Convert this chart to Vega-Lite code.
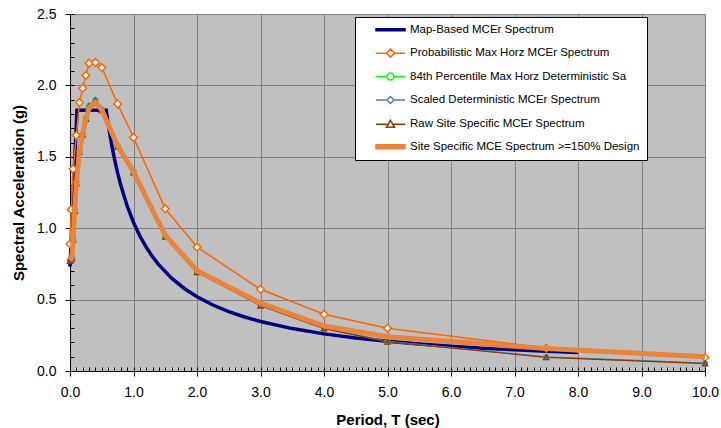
{
  "$schema": "https://vega.github.io/schema/vega-lite/v6.json",
  "width": 635,
  "height": 357,
  "autosize": {"type": "none"},
  "padding": {"left": 70, "top": 14, "right": 16, "bottom": 57},
  "background": "white",
  "config": {"view": {"fill": "#C0C0C0", "stroke": null}, "font": "Liberation Sans"},
  "data": {"values": [
    {"s":"map","T":0,"Sa":0.73},{"s":"map","T":0.11,"Sa":1.826},{"s":"map","T":0.57,"Sa":1.826},{"s":"map","T":0.6,"Sa":1.733},{"s":"map","T":0.65,"Sa":1.6},{"s":"map","T":0.7,"Sa":1.486},{"s":"map","T":0.75,"Sa":1.387},{"s":"map","T":0.8,"Sa":1.3},{"s":"map","T":0.9,"Sa":1.156},{"s":"map","T":1,"Sa":1.04},{"s":"map","T":1.1,"Sa":0.945},{"s":"map","T":1.2,"Sa":0.867},{"s":"map","T":1.3,"Sa":0.8},{"s":"map","T":1.4,"Sa":0.743},{"s":"map","T":1.6,"Sa":0.65},{"s":"map","T":1.8,"Sa":0.578},{"s":"map","T":2,"Sa":0.52},{"s":"map","T":2.25,"Sa":0.462},{"s":"map","T":2.5,"Sa":0.416},{"s":"map","T":2.75,"Sa":0.378},{"s":"map","T":3,"Sa":0.347},{"s":"map","T":3.5,"Sa":0.297},{"s":"map","T":4,"Sa":0.26},{"s":"map","T":4.5,"Sa":0.231},{"s":"map","T":5,"Sa":0.208},{"s":"map","T":5.5,"Sa":0.189},{"s":"map","T":6,"Sa":0.173},{"s":"map","T":6.5,"Sa":0.16},{"s":"map","T":7,"Sa":0.149},{"s":"map","T":7.5,"Sa":0.139},{"s":"map","T":8,"Sa":0.13},
    {"s":"prob","T":0,"Sa":0.89},{"s":"prob","T":0.02,"Sa":1.13},{"s":"prob","T":0.05,"Sa":1.415},{"s":"prob","T":0.1,"Sa":1.65},{"s":"prob","T":0.15,"Sa":1.88},{"s":"prob","T":0.2,"Sa":1.98},{"s":"prob","T":0.25,"Sa":2.07},{"s":"prob","T":0.3,"Sa":2.155},{"s":"prob","T":0.4,"Sa":2.16},{"s":"prob","T":0.5,"Sa":2.125},{"s":"prob","T":0.75,"Sa":1.87},{"s":"prob","T":1,"Sa":1.635},{"s":"prob","T":1.5,"Sa":1.136},{"s":"prob","T":2,"Sa":0.868},{"s":"prob","T":3,"Sa":0.572},{"s":"prob","T":4,"Sa":0.397},{"s":"prob","T":5,"Sa":0.3},{"s":"prob","T":7.5,"Sa":0.16},{"s":"prob","T":10,"Sa":0.095},
    {"s":"p84","T":0,"Sa":0.775},{"s":"p84","T":0.02,"Sa":0.785},{"s":"p84","T":0.03,"Sa":0.8},{"s":"p84","T":0.05,"Sa":0.924},{"s":"p84","T":0.075,"Sa":1.127},{"s":"p84","T":0.1,"Sa":1.32},{"s":"p84","T":0.15,"Sa":1.54},{"s":"p84","T":0.2,"Sa":1.66},{"s":"p84","T":0.25,"Sa":1.77},{"s":"p84","T":0.3,"Sa":1.855},{"s":"p84","T":0.4,"Sa":1.896},{"s":"p84","T":0.5,"Sa":1.83},{"s":"p84","T":0.75,"Sa":1.577},{"s":"p84","T":1,"Sa":1.395},{"s":"p84","T":1.5,"Sa":0.945},{"s":"p84","T":2,"Sa":0.697},{"s":"p84","T":3,"Sa":0.46},{"s":"p84","T":4,"Sa":0.3},{"s":"p84","T":5,"Sa":0.206},{"s":"p84","T":7.5,"Sa":0.098},{"s":"p84","T":10,"Sa":0.055},
    {"s":"scaled","T":0,"Sa":0.78},{"s":"scaled","T":0.02,"Sa":0.79},{"s":"scaled","T":0.03,"Sa":0.805},{"s":"scaled","T":0.05,"Sa":0.93},{"s":"scaled","T":0.075,"Sa":1.13},{"s":"scaled","T":0.1,"Sa":1.325},{"s":"scaled","T":0.15,"Sa":1.545},{"s":"scaled","T":0.2,"Sa":1.665},{"s":"scaled","T":0.25,"Sa":1.775},{"s":"scaled","T":0.3,"Sa":1.86},{"s":"scaled","T":0.4,"Sa":1.9},{"s":"scaled","T":0.5,"Sa":1.835},{"s":"scaled","T":0.75,"Sa":1.58},{"s":"scaled","T":1,"Sa":1.4},{"s":"scaled","T":1.5,"Sa":0.95},{"s":"scaled","T":2,"Sa":0.7},{"s":"scaled","T":3,"Sa":0.462},{"s":"scaled","T":4,"Sa":0.302},{"s":"scaled","T":5,"Sa":0.207},{"s":"scaled","T":7.5,"Sa":0.099},{"s":"scaled","T":10,"Sa":0.056},
    {"s":"raw","T":0,"Sa":0.77},{"s":"raw","T":0.02,"Sa":0.78},{"s":"raw","T":0.03,"Sa":0.795},{"s":"raw","T":0.05,"Sa":0.92},{"s":"raw","T":0.075,"Sa":1.12},{"s":"raw","T":0.1,"Sa":1.315},{"s":"raw","T":0.15,"Sa":1.535},{"s":"raw","T":0.2,"Sa":1.655},{"s":"raw","T":0.25,"Sa":1.765},{"s":"raw","T":0.3,"Sa":1.85},{"s":"raw","T":0.4,"Sa":1.89},{"s":"raw","T":0.5,"Sa":1.825},{"s":"raw","T":0.75,"Sa":1.572},{"s":"raw","T":1,"Sa":1.39},{"s":"raw","T":1.5,"Sa":0.94},{"s":"raw","T":2,"Sa":0.692},{"s":"raw","T":3,"Sa":0.457},{"s":"raw","T":4,"Sa":0.297},{"s":"raw","T":5,"Sa":0.204},{"s":"raw","T":7.5,"Sa":0.096},{"s":"raw","T":10,"Sa":0.052},
    {"s":"site","T":0,"Sa":0.775},{"s":"site","T":0.02,"Sa":0.785},{"s":"site","T":0.03,"Sa":0.8},{"s":"site","T":0.05,"Sa":0.924},{"s":"site","T":0.075,"Sa":1.127},{"s":"site","T":0.1,"Sa":1.32},{"s":"site","T":0.15,"Sa":1.54},{"s":"site","T":0.2,"Sa":1.66},{"s":"site","T":0.25,"Sa":1.77},{"s":"site","T":0.3,"Sa":1.84},{"s":"site","T":0.4,"Sa":1.88},{"s":"site","T":0.5,"Sa":1.83},{"s":"site","T":0.75,"Sa":1.577},{"s":"site","T":1,"Sa":1.395},{"s":"site","T":1.5,"Sa":0.95},{"s":"site","T":2,"Sa":0.703},{"s":"site","T":3,"Sa":0.475},{"s":"site","T":4,"Sa":0.315},{"s":"site","T":5,"Sa":0.24},{"s":"site","T":7.5,"Sa":0.157},{"s":"site","T":10,"Sa":0.1}
  ]},
  "resolve": {"axis": {"x": "independent", "y": "independent"}},
  "layer": [
    {
      "transform": [{"filter": "datum.s === 'map'"}],
      "mark": {"type": "point", "opacity": 0},
      "encoding": {
        "x": {"field": "T", "type": "quantitative", "scale": {"domain": [0, 10], "nice": false, "zero": false},
          "axis": {"orient": "bottom", "values": [0,0.1,0.2,0.3,0.4,0.5,0.6,0.7,0.8,0.9,1,1.1,1.2,1.3,1.4,1.5,1.6,1.7,1.8,1.9,2,2.1,2.2,2.3,2.4,2.5,2.6,2.7,2.8,2.9,3,3.1,3.2,3.3,3.4,3.5,3.6,3.7,3.8,3.9,4,4.1,4.2,4.3,4.4,4.5,4.6,4.7,4.8,4.9,5,5.1,5.2,5.3,5.4,5.5,5.6,5.7,5.8,5.9,6,6.1,6.2,6.3,6.4,6.5,6.6,6.7,6.8,6.9,7,7.1,7.2,7.3,7.4,7.5,7.6,7.7,7.8,7.9,8,8.1,8.2,8.3,8.4,8.5,8.6,8.7,8.8,8.9,9,9.1,9.2,9.3,9.4,9.5,9.6,9.7,9.8,9.9,10],
            "labels": false, "grid": false, "domain": false, "ticks": true, "tickSize": -4, "tickColor": "black", "tickWidth": 1, "title": null}},
        "y": {"field": "Sa", "type": "quantitative", "scale": {"domain": [0, 2.5], "nice": false, "zero": false},
          "axis": {"orient": "left", "values": [0,0.1,0.2,0.3,0.4,0.5,0.6,0.7,0.8,0.9,1,1.1,1.2,1.3,1.4,1.5,1.6,1.7,1.8,1.9,2,2.1,2.2,2.3,2.4,2.5],
            "labels": false, "grid": false, "domain": false, "ticks": true, "tickSize": -4, "tickColor": "black", "tickWidth": 1, "title": null}}
      }
    },
    {
      "encoding": {
        "x": {"field": "T", "type": "quantitative", "scale": {"domain": [0, 10], "nice": false, "zero": false},
          "axis": {"orient": "bottom", "values": [0,1,2,3,4,5,6,7,8,9,10], "format": ".1f", "grid": true, "gridColor": "#808080", "gridWidth": 1, "gridOpacity": 1,
            "tickSize": 5, "tickColor": "black", "domainColor": "black", "domainWidth": 1, "labelFontSize": 14, "labelColor": "black",
            "labelPadding": 9, "labelFlush": false, "labelOverlap": false, "title": "Period, T (sec)", "titleFontSize": 15, "titleFontWeight": "bold",
            "titleColor": "black", "titlePadding": 13}},
        "y": {"field": "Sa", "type": "quantitative", "scale": {"domain": [0, 2.5], "nice": false, "zero": false},
          "axis": {"orient": "left", "values": [0,0.5,1,1.5,2,2.5], "format": ".1f", "grid": true, "gridColor": "#808080", "gridWidth": 1, "gridOpacity": 1,
            "tickSize": 5, "tickColor": "black", "domainColor": "black", "domainWidth": 1, "labelFontSize": 14, "labelColor": "black",
            "labelPadding": 9, "labelFlush": false, "labelOverlap": false, "title": "Spectral Acceleration (g)", "titleFontSize": 15, "titleFontWeight": "bold",
            "titleColor": "black", "titlePadding": 10}},
        "color": {"field": "s", "type": "nominal",
          "scale": {"domain": ["map","prob","p84","scaled","raw","site"], "range": ["#000080","#FF6600","#00FF00","#4A7EBB","#993300","#E8843C"]},
          "legend": {
            "orient": "none", "legendX": 285, "legendY": 3, "title": null,
            "fillColor": "white", "strokeColor": "black", "padding": 7,
            "symbolSize": 16, "symbolStrokeWidth": 1.5,
            "labelFont": "Liberation Sans", "labelFontSize": 11.5, "labelColor": "black", "labelLimit": 400, "labelOffset": 36.5,
            "rowPadding": 9.4,
            "labelExpr": "datum.value === 'map' ? 'Map-Based MCEr Spectrum' : datum.value === 'prob' ? 'Probabilistic Max Horz MCEr Spectrum' : datum.value === 'p84' ? '84th Percentile Max Horz Deterministic Sa' : datum.value === 'scaled' ? 'Scaled Deterministic MCEr Spectrum' : datum.value === 'raw' ? 'Raw Site Specific MCEr Spectrum' : 'Site Specific MCE Spectrum >=150% Design'",
            "encode": {"symbols": {"update": {
              "shape": {"signal": "datum.value === 'map' ? 'M4.125,-0.5H18.625V0.5H4.125Z' : datum.value === 'prob' ? 'M4.125,0H9.375M13.375,0H18.625M11.375,-2L13.375,0L11.375,2L9.375,0Z' : datum.value === 'p84' ? 'M4.125,0H9.625M13.125,0H18.625M13.125,0A1.75,1.75,0,1,1,9.625,0A1.75,1.75,0,1,1,13.125,0Z' : datum.value === 'scaled' ? 'M4.125,0H9.625M13.125,0H18.625M11.375,-1.75L13.125,0L11.375,1.75L9.625,0Z' : datum.value === 'raw' ? 'M4.125,0H10.23M12.52,0H18.625M11.375,-2L13.375,1.5L9.375,1.5Z' : 'M4.125,-1H18.625V1H4.125Z'"},
              "fill": {"signal": "datum.value === 'map' ? '#000080' : datum.value === 'site' ? '#E8843C' : 'white'"},
              "stroke": {"scale": "color", "field": "value"},
              "opacity": {"value": 1}
            }}}
          }}
      },
      "layer": [
        {"transform": [{"filter": "datum.s === 'map'"}], "mark": {"type": "line", "strokeWidth": 3.5}},
        {"transform": [{"filter": "datum.s === 'prob'"}], "mark": {"type": "line", "strokeWidth": 1.5}},
        {"transform": [{"filter": "datum.s === 'prob'"}], "mark": {"type": "point", "shape": "diamond", "filled": true, "size": 60, "strokeWidth": 1.5, "opacity": 1},
          "encoding": {"fill": {"value": "white"}, "stroke": {"value": "#FF6600"}}},
        {"transform": [{"filter": {"field": "s", "oneOf": ["p84", "scaled", "raw"]}}], "mark": {"type": "line", "strokeWidth": 1.2}},
        {"transform": [{"filter": "datum.s === 'p84'"}], "mark": {"type": "point", "shape": "circle", "filled": false, "size": 25, "strokeWidth": 1.2, "opacity": 1},
          "encoding": {"stroke": {"value": "#22DD22"}}},
        {"transform": [{"filter": "datum.s === 'scaled'"}], "mark": {"type": "point", "shape": "diamond", "filled": false, "size": 25, "strokeWidth": 1.2, "opacity": 1},
          "encoding": {"stroke": {"value": "#4A7EBB"}}},
        {"transform": [{"filter": "datum.s === 'raw'"}], "mark": {"type": "point", "shape": "triangle-up", "filled": false, "size": 30, "strokeWidth": 1.2, "opacity": 1},
          "encoding": {"stroke": {"value": "#993300"}}},
        {"transform": [{"filter": "datum.s === 'site'"}], "mark": {"type": "line", "strokeWidth": 5}}
      ]
    }
  ]
}
